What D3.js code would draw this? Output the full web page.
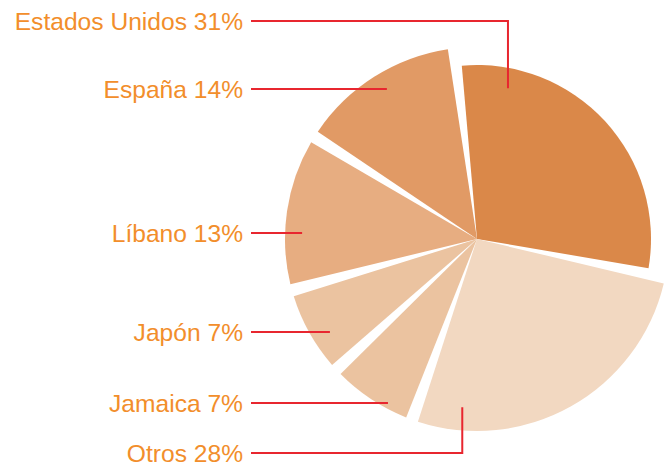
<!DOCTYPE html>
<html>
<head>
<meta charset="utf-8">
<script src="https://cdn.jsdelivr.net/npm/d3@7"></script>
<style>
  html, body { margin: 0; padding: 0; background: #fff; }
  svg { display: block; }
</style>
</head>
<body>
<svg id="chart" width="672" height="464"></svg>
<script>
// Data (clockwise from the top)
const countries = ['Estados Unidos', 'Otros', 'Jamaica', 'Japón', 'Líbano', 'España'];
const shares = [31, 28, 7, 7, 13, 14];
const sliceColors = ['#da8849', '#f2d8c1', '#ebc3a0', '#ebc3a0', '#e7ad81', '#e19a65'];

// Label rows and leader anchors (anchor given as angle in degrees / radius from pie centre)
const labelY = [21, 453, 403, 332, 233, 89];
const anchorAngle = [11.6, 185, 208.6, 237.7, 272, 329];
const anchorRadius = [154, 169, 186, 174, 175, 175];

const svg = d3.select('#chart');
const cx = 477, cy = 239;
const pad = 0.065;

const pie = d3.pie()
  .sort(null)
  .startAngle(-0.12)
  .endAngle(2 * Math.PI - 0.12)
  .padAngle(pad)
  .value(d => d);

const arcs = pie(shares);

// the gaps are wedge shaped, so shrink the angles instead of using arc padding
const arc = d3.arc()
  .innerRadius(0)
  .outerRadius((d, i) => i === 0 ? 174 : 192)
  .startAngle(d => d.startAngle + pad / 2)
  .endAngle(d => d.endAngle - pad / 2)
  .padAngle(0);

const g = svg.append('g').attr('transform', `translate(${cx},${cy})`);

g.selectAll('path.slice')
  .data(arcs)
  .enter()
  .append('path')
  .attr('class', 'slice')
  .attr('d', (d, i) => arc(d, i))
  .attr('fill', (d, i) => sliceColors[i]);

// leader lines
const lineStartX = 251;
const leaders = countries.map((c, i) => {
  const p = d3.pointRadial(anchorAngle[i] * Math.PI / 180, anchorRadius[i]);
  const ax = cx + p[0], ay = cy + p[1];
  const pts = [[lineStartX, labelY[i]], [ax, labelY[i]]];
  if (Math.abs(ay - labelY[i]) > 3) pts.push([ax, ay]);
  return pts;
});

svg.selectAll('path.leader')
  .data(leaders)
  .enter()
  .append('path')
  .attr('class', 'leader')
  .attr('d', d3.line())
  .attr('fill', 'none')
  .attr('stroke', '#e8262f')
  .attr('stroke-width', 2);

// labels
svg.selectAll('text.label')
  .data(countries)
  .enter()
  .append('text')
  .attr('class', 'label')
  .attr('x', 243)
  .attr('y', (d, i) => labelY[i] + 9)
  .attr('text-anchor', 'end')
  .style('font-family', '"Liberation Sans", Arial, sans-serif')
  .style('font-size', '24.6px')
  .style('fill', '#f28e2b')
  .text((d, i) => `${d} ${shares[i]}%`);
</script>
</body>
</html>
